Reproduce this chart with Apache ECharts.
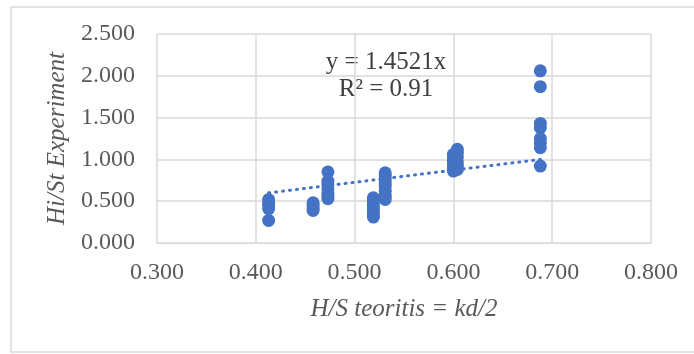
<!DOCTYPE html>
<html>
<head>
<meta charset="utf-8">
<script src="https://cdn.jsdelivr.net/npm/echarts@6/dist/echarts.min.js"></script>
<style>
  html, body { margin: 0; padding: 0; background: #fff; }
  #chart { width: 694px; height: 354px; }
</style>
</head>
<body>
<div id="chart"></div>
<script>
// measured points, grouped by x column
const xValues = [0.413, 0.458, 0.473, 0.519, 0.531, 0.600, 0.604, 0.688];
const yGroups = [
  [0.52, 0.48, 0.45, 0.41, 0.27],
  [0.48, 0.45, 0.42, 0.39],
  [0.85, 0.74, 0.70, 0.65, 0.60, 0.56, 0.53],
  [0.54, 0.50, 0.46, 0.42, 0.38, 0.34, 0.31],
  [0.84, 0.80, 0.76, 0.72, 0.68, 0.62, 0.56, 0.52],
  [1.06, 1.02, 0.98, 0.94, 0.90, 0.86],
  [1.12, 1.08, 1.03, 0.97, 0.92, 0.88],
  [2.06, 1.87, 1.43, 1.38, 1.25, 1.20, 1.14, 0.92]
];
const trendSlope = 1.4521;
const trendLabel = ['y = 1.4521x', 'R\u00b2 = 0.91'];
const xTicks = [0.3, 0.4, 0.5, 0.6, 0.7, 0.8];
const yTicks = [0, 0.5, 1.0, 1.5, 2.0, 2.5];

const points = [];
xValues.forEach((x, i) => {
  yGroups[i].forEach(y => points.push([x, y]));
});
const xMin = Math.min(...xValues);
const xMax = Math.max(...xValues);
const trend = [[xMin, xMin * trendSlope], [xMax, xMax * trendSlope]];

const chart = echarts.init(document.getElementById('chart'));
const fontFamily = '"Liberation Serif", "Times New Roman", serif';

const option = {
  animation: false,
  grid: { left: 157, right: 43, top: 34, bottom: 111 },
  xAxis: {
    type: 'value',
    min: xTicks[0],
    max: xTicks[xTicks.length - 1],
    interval: 0.1,
    name: 'H/S teoritis = kd/2',
    nameLocation: 'middle',
    nameGap: 54,
    nameTextStyle: { fontFamily, fontStyle: 'italic', fontSize: 25, color: '#595959' },
    axisLine: { show: true, lineStyle: { color: '#d9d9d9', width: 1 } },
    axisTick: { show: false },
    splitLine: { show: true, lineStyle: { color: '#d9d9d9', width: 1.5 } },
    axisLabel: {
      fontFamily, fontSize: 24, color: '#595959', margin: 18,
      formatter: v => v.toFixed(3)
    }
  },
  yAxis: {
    type: 'value',
    min: yTicks[0],
    max: yTicks[yTicks.length - 1],
    interval: 0.5,
    name: 'Hi/St Experiment',
    nameLocation: 'middle',
    nameGap: 87,
    nameTextStyle: { fontFamily, fontStyle: 'italic', fontSize: 25, color: '#595959' },
    axisLine: { show: false },
    axisTick: { show: false },
    splitLine: { show: true, lineStyle: { color: '#d9d9d9', width: 1.5 } },
    axisLabel: {
      fontFamily, fontSize: 24, color: '#595959', margin: 22,
      formatter: v => v.toFixed(3)
    }
  },
  series: [
    {
      type: 'scatter',
      data: points,
      symbol: 'circle',
      symbolSize: 13,
      itemStyle: { color: '#4472c4', opacity: 1 },
      z: 3
    },
    {
      type: 'line',
      data: trend,
      symbol: 'none',
      lineStyle: { color: '#4472c4', width: 3, type: [1, 6], cap: 'round' },
      z: 4
    }
  ],
  graphic: [
    {
      type: 'rect',
      shape: { x: 11, y: 7, width: 700, height: 345 },
      style: { fill: 'none', stroke: '#d9d9d9', lineWidth: 1.5 },
      silent: true
    },
    {
      type: 'text',
      x: 386, y: 62,
      style: {
        text: trendLabel[0], fontFamily, fontSize: 25, fill: '#404040',
        align: 'center', verticalAlign: 'middle'
      }
    },
    {
      type: 'text',
      x: 386, y: 89,
      style: {
        text: trendLabel[1], fontFamily, fontSize: 25, fill: '#404040',
        align: 'center', verticalAlign: 'middle'
      }
    }
  ]
};

chart.setOption(option);
</script>
</body>
</html>
